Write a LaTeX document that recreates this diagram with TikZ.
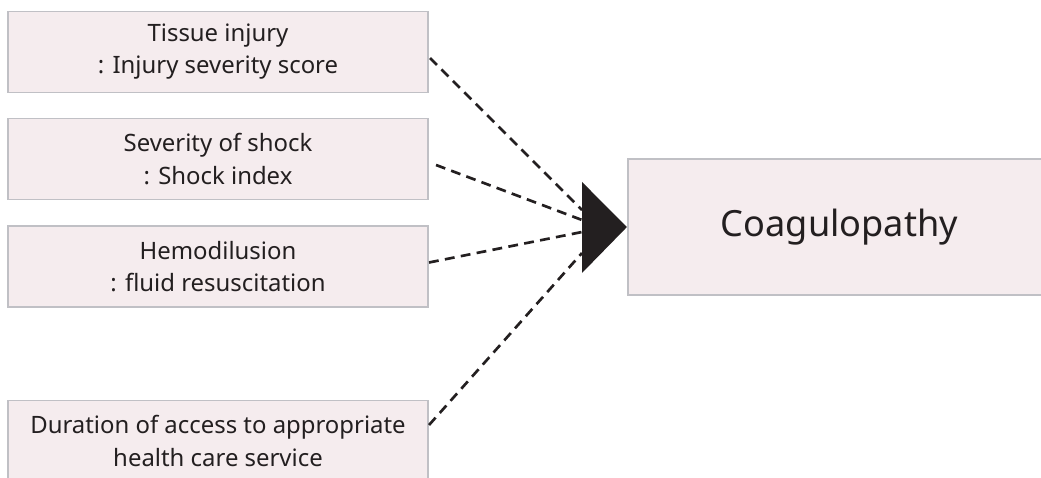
\documentclass[tikz,border=0pt]{standalone}
\usepackage{fontspec}
\setmainfont{Noto Sans}
\usepackage{xcolor}
\definecolor{cBox}{HTML}{F5ECEE}
\definecolor{cEdge}{HTML}{C0C0C5}
\definecolor{cInk}{HTML}{231F20}
\tikzset{
  factor/.style={draw=cEdge, fill=cBox, line width=1.4pt, minimum width=10.5cm, minimum height=2.025cm,
    align=center, text=cInk, font=\fontsize{17}{22.8}\selectfont, inner sep=0pt},
  outcome/.style={draw=cEdge, fill=cBox, line width=1.4pt, minimum width=10.575cm, minimum height=3.4cm,
    text=cInk, font=\fontsize{25.7}{30}\selectfont, inner sep=0pt},
  link/.style={line width=1.9pt, cInk, dash pattern=on 7pt off 4.5pt},
}

\begin{document}
\begin{tikzpicture}[x=0.025cm, y=-0.025cm]
\useasboundingbox (0,0) rectangle (1041,478);
\clip (0,0) rectangle (1041,478);
% factors on the left
\node[factor] (tis) at (218,52) {Tissue injury\\: Injury severity score};
\node[factor] (sho) at (218,159) {Severity of shock\\: Shock index};
\node[factor] (hem) at (218,266.5) {Hemodilusion\\: fluid resuscitation};
\node[factor] (dur) at (218,441) {Duration of access to appropriate\\health care service};
% outcome
\node[outcome] (coa) at (839.5,227) {Coagulopathy};
% arrow head
\coordinate (hA) at (582,182); \coordinate (hB) at (582,273); \coordinate (hC) at (coa.west);
\fill[cInk] (hA) -- (hC) -- (hB) -- cycle;
\coordinate (in1) at (582,210); \coordinate (in2) at (582,220);
\coordinate (in3) at (582,232); \coordinate (in4) at (582,253);
\foreach \n/\dx/\dy/\k in {tis/1/6/1, sho/7/6/2, hem/0/-4/3, dur/0/-16/4}{
  \draw[link] ([shift={(\dx,\dy)}]\n.east) -- (in\k);
}
\end{tikzpicture}
\end{document}
